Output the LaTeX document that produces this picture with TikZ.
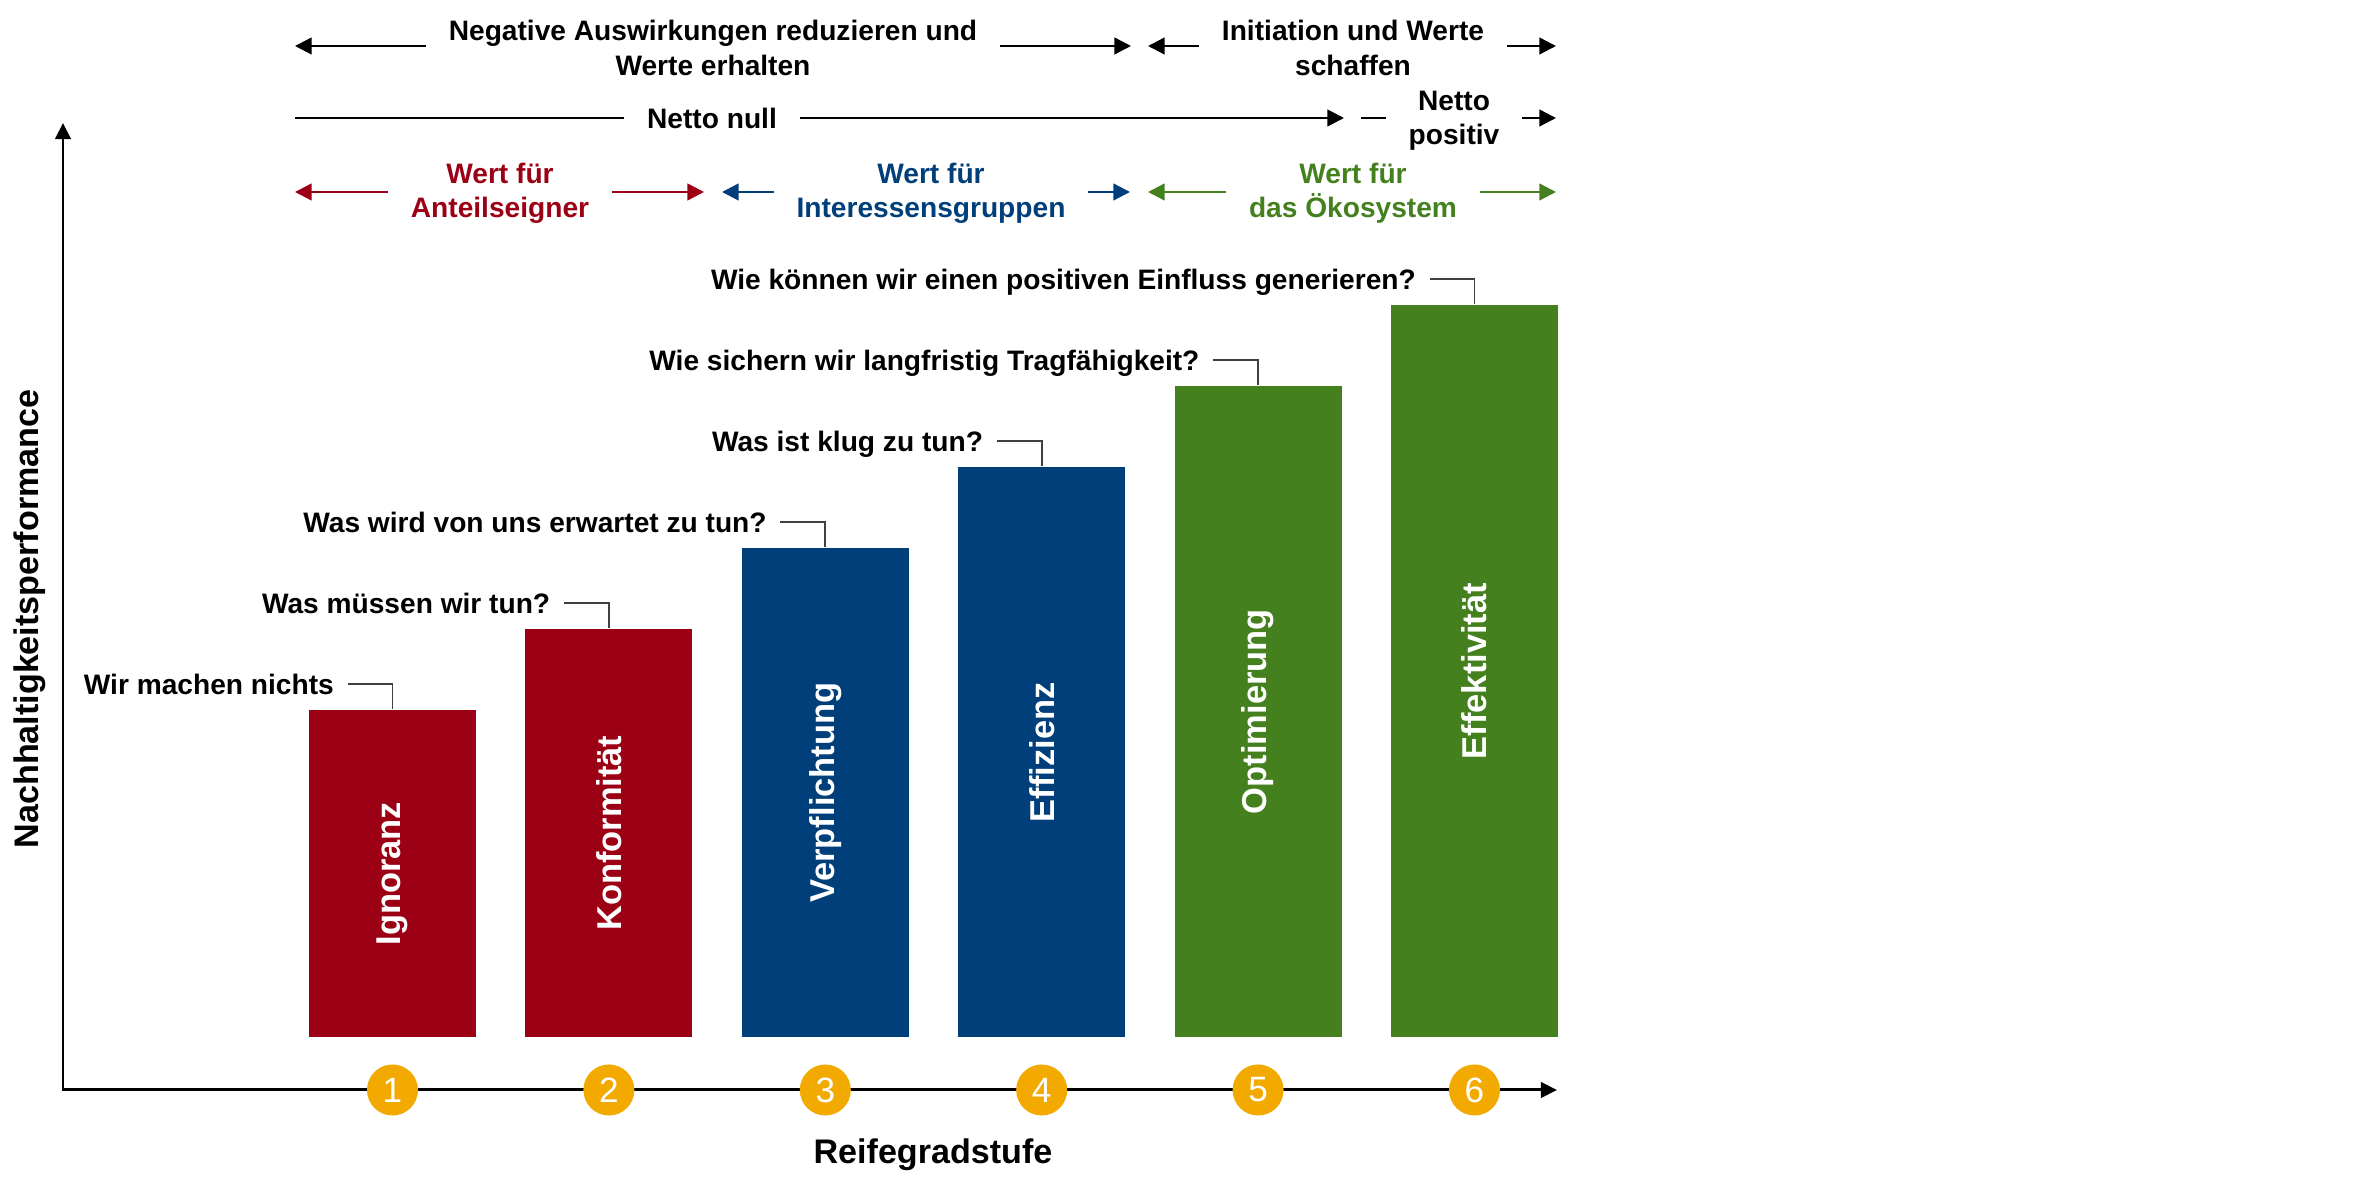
\documentclass[tikz,border=0pt]{standalone}
\usepackage{fontspec}
\setmainfont{Liberation Sans}
\usetikzlibrary{arrows.meta,positioning}
\definecolor{rot}{HTML}{9B0014}
\definecolor{blau}{HTML}{003F7A}
\definecolor{gruen}{HTML}{45801E}
\definecolor{gelb}{HTML}{F2A900}
\tikzset{
  bar/.style = {rectangle, anchor=south, minimum width=1.67cm, inner sep=0pt},
  barlabel/.style = {rotate=90, text=white, font=\fontsize{9.8}{12}\selectfont\bfseries},
  stage/.style = {circle, fill=gelb, minimum size=0.51cm, inner sep=0pt, text=white, font=\fontsize{10}{12}\selectfont},
  question/.style = {anchor=east, inner xsep=3.7pt, inner ysep=0pt, text height=5.7pt, text depth=0pt, font=\fontsize{8}{9.7}\selectfont\bfseries},
  band/.style = {align=center, inner xsep=6.3pt, inner ysep=0pt, font=\fontsize{8}{9.7}\selectfont\bfseries},
  axislabel/.style = {font=\fontsize{9.7}{11}\selectfont\bfseries},
  arr/.style = {-{Triangle[length=4.7pt,width=4.7pt]}, line width=0.65pt},
  callout/.style = {draw=black!75, line width=0.5pt}
}

\begin{document}
\begin{tikzpicture}[x=0.01cm, y=-0.01cm]
        \useasboundingbox (0,0) rectangle (2362,1195);

        % top bands
        \node [band] (neg) at (713,48) {Negative Auswirkungen reduzieren und\\Werte erhalten};
        \node [band] (ini) at (1353,48) {Initiation und Werte\\schaffen};
        \node [band] (nul) at (712,118) {Netto null};
        \node [band] (pos) at (1454,121) {Netto\\positiv};
        \node [band, text=rot] (ant) at (500,193) {Wert für\\Anteilseigner};
        \node [band, text=blau] (int) at (931,193) {Wert für\\Interessensgruppen};
        \node [band, text=gruen] (oek) at (1353,193) {Wert für\\das Ökosystem};

        \coordinate (negL) at (295,46);
        \coordinate (negR) at (1131,46);
        \coordinate (iniL) at (1148,46);
        \coordinate (iniR) at (1556,46);
        \coordinate (nulL) at (295,118);
        \coordinate (nulR) at (1344,118);
        \coordinate (posL) at (1361,118);
        \coordinate (posR) at (1556,118);
        \coordinate (antL) at (295,192);
        \coordinate (antR) at (704,192);
        \coordinate (intL) at (722,192);
        \coordinate (intR) at (1130,192);
        \coordinate (oekL) at (1148,192);
        \coordinate (oekR) at (1556,192);

        \draw [arr] (neg.west |- negL) -- (negL);
        \draw [arr] (neg.east |- negR) -- (negR);
        \draw [arr] (ini.west |- iniL) -- (iniL);
        \draw [arr] (ini.east |- iniR) -- (iniR);
        \draw [line width=0.65pt] (nul.west |- nulL) -- (nulL);
        \draw [arr] (nul.east |- nulR) -- (nulR);
        \draw [line width=0.65pt] (posL) -- (pos.west |- posL);
        \draw [arr] (pos.east |- posR) -- (posR);
        \draw [arr, rot] (ant.west |- antL) -- (antL);
        \draw [arr, rot] (ant.east |- antR) -- (antR);
        \draw [arr, blau] (int.west |- intL) -- (intL);
        \draw [arr, blau] (int.east |- intR) -- (intR);
        \draw [arr, gruen] (oek.west |- oekL) -- (oekL);
        \draw [arr, gruen] (oek.east |- oekR) -- (oekR);

        % axes
        \coordinate (O) at (63,1090);
        \coordinate (ytip) at (63,123);
        \coordinate (xtip) at (1557,1090);
        \draw [{Triangle[length=4.6pt,width=4.4pt]}-{Triangle[length=4.6pt,width=4.4pt]}, line width=0.85pt] (ytip) -- (O) -- (xtip);
        \node [axislabel, rotate=90] (ylab) at (30,619) {Nachhaltigkeitsperformance};
        \node [axislabel] (xlab) at (933,1155) {Reifegradstufe};

        % bars, stages and questions
        \foreach \i/\name/\col/\quest in {1/Ignoranz/rot/Wir machen nichts,
                2/Konformität/rot/Was müssen wir tun?,
                3/Verpflichtung/blau/Was wird von uns erwartet zu tun?,
                4/Effizienz/blau/Was ist klug zu tun?,
                5/Optimierung/gruen/Wie sichern wir langfristig Tragfähigkeit?,
                6/Effektivität/gruen/Wie können wir einen positiven Einfluss generieren?} {
            \pgfmathsetmacro\bx{392.5+216.4*(\i-1)}
            \pgfmathsetmacro\bh{3.27+0.81*(\i-1)}
            \pgfmathsetmacro\qy{684-81*(\i-1)}
            \node [bar, fill=\col, minimum height=\bh cm] (b\i) at (\bx,1038) {};
            \node [barlabel] (l\i) at (b\i.center) {\name};
            \node [stage] (c\i) at (\bx,1090) {\i};
            \node [question] (q\i) at (\bx-45,\qy) {\quest};
            \draw [callout] (q\i.east) -| (b\i.north);
        }
    \end{tikzpicture}
\end{document}
